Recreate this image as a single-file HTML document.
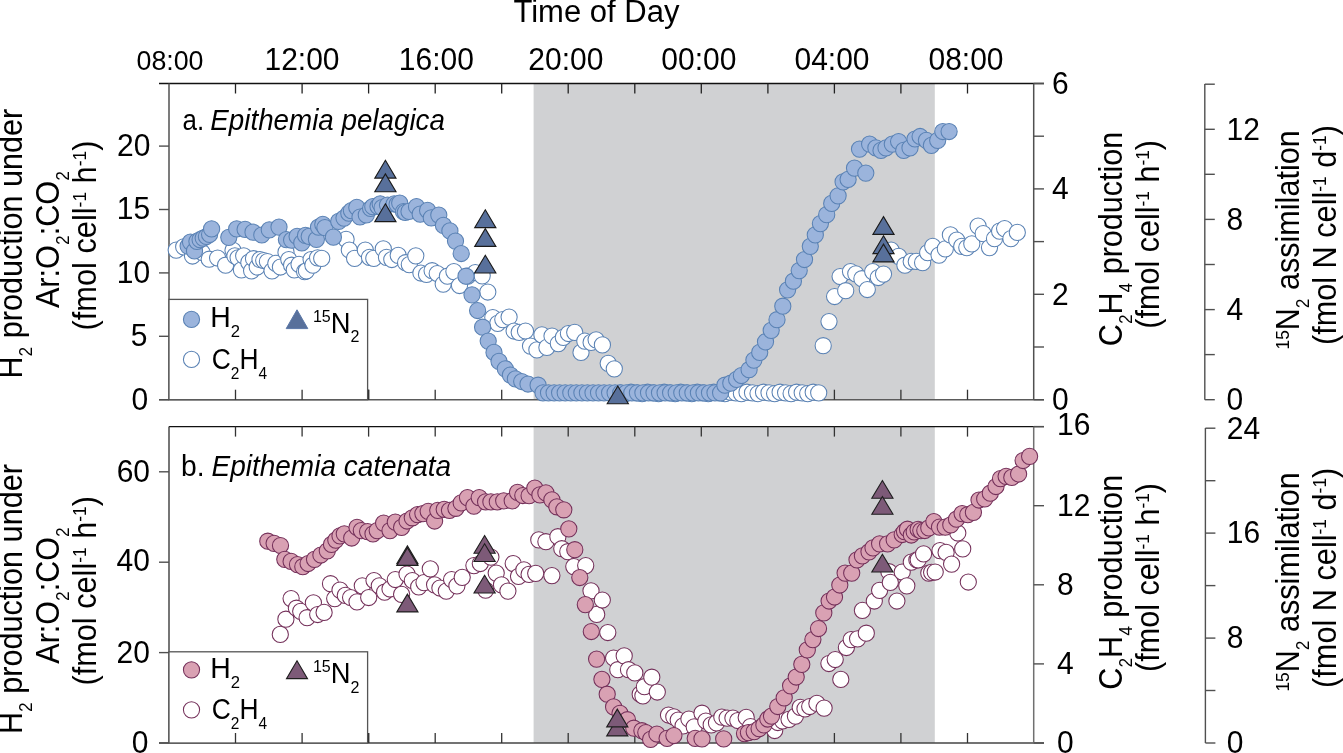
<!DOCTYPE html>
<html><head><meta charset="utf-8"><title>Figure</title>
<style>html,body{margin:0;padding:0;background:#fff;width:1343px;height:753px;overflow:hidden}svg{display:block}</style>
</head><body>
<svg width="1343" height="753" viewBox="0 0 1343 753">
<rect width="1343" height="753" fill="#fff"/>
<rect x="533.6" y="83.5" width="401.2" height="316.2" fill="#d0d1d3"/>
<rect x="533.6" y="426.6" width="401.2" height="316.4" fill="#d0d1d3"/>
<line x1="159" y1="83.5" x2="1044" y2="83.5" stroke="#111" stroke-width="1.4"/>
<line x1="159" y1="399.7" x2="1044" y2="399.7" stroke="#5a5a5a" stroke-width="1.5"/>
<line x1="169.0" y1="83.5" x2="169.0" y2="399.7" stroke="#505050" stroke-width="1.5"/>
<line x1="1033.7" y1="83.5" x2="1033.7" y2="399.7" stroke="#505050" stroke-width="1.5"/>
<line x1="235.5" y1="83.5" x2="235.5" y2="93.5" stroke="#222" stroke-width="1.3"/>
<line x1="235.5" y1="399.7" x2="235.5" y2="389.7" stroke="#333" stroke-width="1.3"/>
<line x1="302.1" y1="83.5" x2="302.1" y2="93.5" stroke="#222" stroke-width="1.3"/>
<line x1="302.1" y1="399.7" x2="302.1" y2="389.7" stroke="#333" stroke-width="1.3"/>
<line x1="368.6" y1="83.5" x2="368.6" y2="93.5" stroke="#222" stroke-width="1.3"/>
<line x1="368.6" y1="399.7" x2="368.6" y2="389.7" stroke="#333" stroke-width="1.3"/>
<line x1="435.2" y1="83.5" x2="435.2" y2="93.5" stroke="#222" stroke-width="1.3"/>
<line x1="435.2" y1="399.7" x2="435.2" y2="389.7" stroke="#333" stroke-width="1.3"/>
<line x1="501.7" y1="83.5" x2="501.7" y2="93.5" stroke="#222" stroke-width="1.3"/>
<line x1="501.7" y1="399.7" x2="501.7" y2="389.7" stroke="#333" stroke-width="1.3"/>
<line x1="568.2" y1="83.5" x2="568.2" y2="93.5" stroke="#222" stroke-width="1.3"/>
<line x1="568.2" y1="399.7" x2="568.2" y2="389.7" stroke="#333" stroke-width="1.3"/>
<line x1="634.8" y1="83.5" x2="634.8" y2="93.5" stroke="#222" stroke-width="1.3"/>
<line x1="634.8" y1="399.7" x2="634.8" y2="389.7" stroke="#333" stroke-width="1.3"/>
<line x1="701.3" y1="83.5" x2="701.3" y2="93.5" stroke="#222" stroke-width="1.3"/>
<line x1="701.3" y1="399.7" x2="701.3" y2="389.7" stroke="#333" stroke-width="1.3"/>
<line x1="767.9" y1="83.5" x2="767.9" y2="93.5" stroke="#222" stroke-width="1.3"/>
<line x1="767.9" y1="399.7" x2="767.9" y2="389.7" stroke="#333" stroke-width="1.3"/>
<line x1="834.4" y1="83.5" x2="834.4" y2="93.5" stroke="#222" stroke-width="1.3"/>
<line x1="834.4" y1="399.7" x2="834.4" y2="389.7" stroke="#333" stroke-width="1.3"/>
<line x1="900.9" y1="83.5" x2="900.9" y2="93.5" stroke="#222" stroke-width="1.3"/>
<line x1="900.9" y1="399.7" x2="900.9" y2="389.7" stroke="#333" stroke-width="1.3"/>
<line x1="967.5" y1="83.5" x2="967.5" y2="93.5" stroke="#222" stroke-width="1.3"/>
<line x1="967.5" y1="399.7" x2="967.5" y2="389.7" stroke="#333" stroke-width="1.3"/>
<line x1="159" y1="399.7" x2="169.0" y2="399.7" stroke="#505050" stroke-width="1.4"/>
<line x1="159" y1="336.3" x2="169.0" y2="336.3" stroke="#505050" stroke-width="1.4"/>
<line x1="159" y1="272.9" x2="169.0" y2="272.9" stroke="#505050" stroke-width="1.4"/>
<line x1="159" y1="209.5" x2="169.0" y2="209.5" stroke="#505050" stroke-width="1.4"/>
<line x1="159" y1="146.1" x2="169.0" y2="146.1" stroke="#505050" stroke-width="1.4"/>
<line x1="1033.7" y1="399.7" x2="1044" y2="399.7" stroke="#505050" stroke-width="1.4"/>
<line x1="1033.7" y1="347.0" x2="1044" y2="347.0" stroke="#505050" stroke-width="1.4"/>
<line x1="1033.7" y1="294.3" x2="1044" y2="294.3" stroke="#505050" stroke-width="1.4"/>
<line x1="1033.7" y1="241.6" x2="1044" y2="241.6" stroke="#505050" stroke-width="1.4"/>
<line x1="1033.7" y1="188.9" x2="1044" y2="188.9" stroke="#505050" stroke-width="1.4"/>
<line x1="1033.7" y1="136.2" x2="1044" y2="136.2" stroke="#505050" stroke-width="1.4"/>
<line x1="1033.7" y1="83.5" x2="1044" y2="83.5" stroke="#505050" stroke-width="1.4"/>
<line x1="1204.8" y1="84" x2="1204.8" y2="399.7" stroke="#505050" stroke-width="1.4"/>
<line x1="1204.8" y1="399.7" x2="1214.8" y2="399.7" stroke="#505050" stroke-width="1.4"/>
<line x1="1204.8" y1="354.6" x2="1214.8" y2="354.6" stroke="#505050" stroke-width="1.4"/>
<line x1="1204.8" y1="309.6" x2="1214.8" y2="309.6" stroke="#505050" stroke-width="1.4"/>
<line x1="1204.8" y1="264.5" x2="1214.8" y2="264.5" stroke="#505050" stroke-width="1.4"/>
<line x1="1204.8" y1="219.4" x2="1214.8" y2="219.4" stroke="#505050" stroke-width="1.4"/>
<line x1="1204.8" y1="174.3" x2="1214.8" y2="174.3" stroke="#505050" stroke-width="1.4"/>
<line x1="1204.8" y1="129.3" x2="1214.8" y2="129.3" stroke="#505050" stroke-width="1.4"/>
<line x1="1204.8" y1="84.2" x2="1214.8" y2="84.2" stroke="#505050" stroke-width="1.4"/>
<line x1="169.0" y1="426.6" x2="1044" y2="426.6" stroke="#111" stroke-width="1.2"/>
<line x1="159" y1="743.0" x2="1044" y2="743.0" stroke="#444" stroke-width="1.5"/>
<line x1="169.0" y1="426.6" x2="169.0" y2="743.0" stroke="#3c3c3c" stroke-width="1.4"/>
<line x1="1033.7" y1="426.6" x2="1033.7" y2="743.0" stroke="#707070" stroke-width="1.5"/>
<line x1="235.5" y1="426.6" x2="235.5" y2="436.6" stroke="#333" stroke-width="1.3"/>
<line x1="235.5" y1="743.0" x2="235.5" y2="733.0" stroke="#333" stroke-width="1.3"/>
<line x1="302.1" y1="426.6" x2="302.1" y2="436.6" stroke="#333" stroke-width="1.3"/>
<line x1="302.1" y1="743.0" x2="302.1" y2="733.0" stroke="#333" stroke-width="1.3"/>
<line x1="368.6" y1="426.6" x2="368.6" y2="436.6" stroke="#333" stroke-width="1.3"/>
<line x1="368.6" y1="743.0" x2="368.6" y2="733.0" stroke="#333" stroke-width="1.3"/>
<line x1="435.2" y1="426.6" x2="435.2" y2="436.6" stroke="#333" stroke-width="1.3"/>
<line x1="435.2" y1="743.0" x2="435.2" y2="733.0" stroke="#333" stroke-width="1.3"/>
<line x1="501.7" y1="426.6" x2="501.7" y2="436.6" stroke="#333" stroke-width="1.3"/>
<line x1="501.7" y1="743.0" x2="501.7" y2="733.0" stroke="#333" stroke-width="1.3"/>
<line x1="568.2" y1="426.6" x2="568.2" y2="436.6" stroke="#333" stroke-width="1.3"/>
<line x1="568.2" y1="743.0" x2="568.2" y2="733.0" stroke="#333" stroke-width="1.3"/>
<line x1="634.8" y1="426.6" x2="634.8" y2="436.6" stroke="#333" stroke-width="1.3"/>
<line x1="634.8" y1="743.0" x2="634.8" y2="733.0" stroke="#333" stroke-width="1.3"/>
<line x1="701.3" y1="426.6" x2="701.3" y2="436.6" stroke="#333" stroke-width="1.3"/>
<line x1="701.3" y1="743.0" x2="701.3" y2="733.0" stroke="#333" stroke-width="1.3"/>
<line x1="767.9" y1="426.6" x2="767.9" y2="436.6" stroke="#333" stroke-width="1.3"/>
<line x1="767.9" y1="743.0" x2="767.9" y2="733.0" stroke="#333" stroke-width="1.3"/>
<line x1="834.4" y1="426.6" x2="834.4" y2="436.6" stroke="#333" stroke-width="1.3"/>
<line x1="834.4" y1="743.0" x2="834.4" y2="733.0" stroke="#333" stroke-width="1.3"/>
<line x1="900.9" y1="426.6" x2="900.9" y2="436.6" stroke="#333" stroke-width="1.3"/>
<line x1="900.9" y1="743.0" x2="900.9" y2="733.0" stroke="#333" stroke-width="1.3"/>
<line x1="967.5" y1="426.6" x2="967.5" y2="436.6" stroke="#333" stroke-width="1.3"/>
<line x1="967.5" y1="743.0" x2="967.5" y2="733.0" stroke="#333" stroke-width="1.3"/>
<line x1="159" y1="743.0" x2="169.0" y2="743.0" stroke="#505050" stroke-width="1.4"/>
<line x1="159" y1="652.6" x2="169.0" y2="652.6" stroke="#505050" stroke-width="1.4"/>
<line x1="159" y1="562.2" x2="169.0" y2="562.2" stroke="#505050" stroke-width="1.4"/>
<line x1="159" y1="471.8" x2="169.0" y2="471.8" stroke="#505050" stroke-width="1.4"/>
<line x1="1033.7" y1="743.0" x2="1044" y2="743.0" stroke="#505050" stroke-width="1.4"/>
<line x1="1033.7" y1="663.9" x2="1044" y2="663.9" stroke="#505050" stroke-width="1.4"/>
<line x1="1033.7" y1="584.8" x2="1044" y2="584.8" stroke="#505050" stroke-width="1.4"/>
<line x1="1033.7" y1="505.7" x2="1044" y2="505.7" stroke="#505050" stroke-width="1.4"/>
<line x1="1033.7" y1="426.6" x2="1044" y2="426.6" stroke="#505050" stroke-width="1.4"/>
<line x1="1205.4" y1="428" x2="1205.4" y2="743.0" stroke="#505050" stroke-width="1.4"/>
<line x1="1205.4" y1="743.0" x2="1215.4" y2="743.0" stroke="#505050" stroke-width="1.4"/>
<line x1="1205.4" y1="690.5" x2="1215.4" y2="690.5" stroke="#505050" stroke-width="1.4"/>
<line x1="1205.4" y1="638.1" x2="1215.4" y2="638.1" stroke="#505050" stroke-width="1.4"/>
<line x1="1205.4" y1="585.6" x2="1215.4" y2="585.6" stroke="#505050" stroke-width="1.4"/>
<line x1="1205.4" y1="533.1" x2="1215.4" y2="533.1" stroke="#505050" stroke-width="1.4"/>
<line x1="1205.4" y1="480.7" x2="1215.4" y2="480.7" stroke="#505050" stroke-width="1.4"/>
<line x1="1205.4" y1="428.2" x2="1215.4" y2="428.2" stroke="#505050" stroke-width="1.4"/>
<g fill="#fff" stroke="#5a82b4" stroke-width="1.05">
<circle cx="176.2" cy="250.1" r="8.1"/>
<circle cx="183.7" cy="246.9" r="8.1"/>
<circle cx="192.5" cy="256.0" r="8.1"/>
<circle cx="202.1" cy="252.5" r="8.1"/>
<circle cx="209.2" cy="259.2" r="8.1"/>
<circle cx="217.6" cy="258.0" r="8.1"/>
<circle cx="225.6" cy="265.2" r="8.1"/>
<circle cx="233.0" cy="250.3" r="8.1"/>
<circle cx="234.9" cy="255.9" r="8.1"/>
<circle cx="238.1" cy="257.8" r="8.1"/>
<circle cx="241.4" cy="269.8" r="8.1"/>
<circle cx="243.7" cy="255.9" r="8.1"/>
<circle cx="248.8" cy="262.4" r="8.1"/>
<circle cx="251.6" cy="270.8" r="8.1"/>
<circle cx="253.5" cy="258.7" r="8.1"/>
<circle cx="257.2" cy="267.0" r="8.1"/>
<circle cx="260.0" cy="259.6" r="8.1"/>
<circle cx="263.7" cy="260.5" r="8.1"/>
<circle cx="267.4" cy="261.5" r="8.1"/>
<circle cx="272.0" cy="270.8" r="8.1"/>
<circle cx="275.8" cy="263.3" r="8.1"/>
<circle cx="280.4" cy="267.0" r="8.1"/>
<circle cx="286.0" cy="252.2" r="8.1"/>
<circle cx="288.8" cy="259.6" r="8.1"/>
<circle cx="291.6" cy="265.2" r="8.1"/>
<circle cx="294.3" cy="269.8" r="8.1"/>
<circle cx="299.0" cy="264.3" r="8.1"/>
<circle cx="304.6" cy="271.7" r="8.1"/>
<circle cx="306.4" cy="270.8" r="8.1"/>
<circle cx="311.1" cy="259.6" r="8.1"/>
<circle cx="312.9" cy="265.2" r="8.1"/>
<circle cx="317.6" cy="257.8" r="8.1"/>
<circle cx="321.7" cy="258.4" r="8.1"/>
<circle cx="346.1" cy="239.3" r="8.1"/>
<circle cx="349.3" cy="250.0" r="8.1"/>
<circle cx="354.6" cy="258.4" r="8.1"/>
<circle cx="365.3" cy="250.0" r="8.1"/>
<circle cx="369.5" cy="257.4" r="8.1"/>
<circle cx="373.8" cy="258.4" r="8.1"/>
<circle cx="383.3" cy="248.9" r="8.1"/>
<circle cx="386.5" cy="257.4" r="8.1"/>
<circle cx="391.8" cy="259.5" r="8.1"/>
<circle cx="398.2" cy="255.3" r="8.1"/>
<circle cx="405.6" cy="262.7" r="8.1"/>
<circle cx="409.3" cy="264.6" r="8.1"/>
<circle cx="415.8" cy="255.8" r="8.1"/>
<circle cx="420.9" cy="273.0" r="8.1"/>
<circle cx="426.5" cy="274.4" r="8.1"/>
<circle cx="432.1" cy="270.7" r="8.1"/>
<circle cx="437.2" cy="273.5" r="8.1"/>
<circle cx="443.2" cy="284.1" r="8.1"/>
<circle cx="447.4" cy="276.2" r="8.1"/>
<circle cx="453.9" cy="271.6" r="8.1"/>
<circle cx="459.5" cy="285.5" r="8.1"/>
<circle cx="467.7" cy="276.2" r="8.1"/>
<circle cx="475.3" cy="272.5" r="8.1"/>
<circle cx="482.2" cy="275.8" r="8.1"/>
<circle cx="487.8" cy="292.0" r="8.1"/>
<circle cx="492.8" cy="317.5" r="8.1"/>
<circle cx="497.7" cy="323.4" r="8.1"/>
<circle cx="502.8" cy="319.6" r="8.1"/>
<circle cx="509.1" cy="317.1" r="8.1"/>
<circle cx="514.1" cy="331.0" r="8.1"/>
<circle cx="519.2" cy="332.3" r="8.1"/>
<circle cx="525.5" cy="331.0" r="8.1"/>
<circle cx="530.5" cy="346.1" r="8.1"/>
<circle cx="536.9" cy="349.9" r="8.1"/>
<circle cx="541.9" cy="334.8" r="8.1"/>
<circle cx="546.9" cy="347.4" r="8.1"/>
<circle cx="552.0" cy="336.0" r="8.1"/>
<circle cx="558.3" cy="343.6" r="8.1"/>
<circle cx="563.3" cy="337.3" r="8.1"/>
<circle cx="568.4" cy="333.5" r="8.1"/>
<circle cx="574.7" cy="332.3" r="8.1"/>
<circle cx="581.0" cy="352.4" r="8.1"/>
<circle cx="584.8" cy="341.1" r="8.1"/>
<circle cx="591.1" cy="342.4" r="8.1"/>
<circle cx="596.1" cy="339.8" r="8.1"/>
<circle cx="602.4" cy="344.9" r="8.1"/>
<circle cx="608.2" cy="363.3" r="8.1"/>
<circle cx="614.3" cy="368.8" r="8.1"/>
<circle cx="620.0" cy="392.8" r="8.1"/>
<circle cx="625.5" cy="393.6" r="8.1"/>
<circle cx="631.0" cy="392.2" r="8.1"/>
<circle cx="636.6" cy="392.8" r="8.1"/>
<circle cx="642.1" cy="393.6" r="8.1"/>
<circle cx="647.6" cy="392.2" r="8.1"/>
<circle cx="653.1" cy="392.8" r="8.1"/>
<circle cx="658.6" cy="393.6" r="8.1"/>
<circle cx="664.2" cy="392.2" r="8.1"/>
<circle cx="669.7" cy="392.8" r="8.1"/>
<circle cx="675.2" cy="393.6" r="8.1"/>
<circle cx="680.7" cy="392.2" r="8.1"/>
<circle cx="686.2" cy="392.8" r="8.1"/>
<circle cx="691.8" cy="393.6" r="8.1"/>
<circle cx="697.3" cy="392.2" r="8.1"/>
<circle cx="702.8" cy="392.8" r="8.1"/>
<circle cx="708.3" cy="393.6" r="8.1"/>
<circle cx="713.8" cy="392.2" r="8.1"/>
<circle cx="719.4" cy="392.8" r="8.1"/>
<circle cx="724.9" cy="393.6" r="8.1"/>
<circle cx="730.4" cy="392.2" r="8.1"/>
<circle cx="735.9" cy="392.8" r="8.1"/>
<circle cx="741.4" cy="393.6" r="8.1"/>
<circle cx="747.0" cy="392.2" r="8.1"/>
<circle cx="752.5" cy="392.8" r="8.1"/>
<circle cx="758.0" cy="393.6" r="8.1"/>
<circle cx="763.5" cy="392.2" r="8.1"/>
<circle cx="769.0" cy="392.8" r="8.1"/>
<circle cx="774.6" cy="393.6" r="8.1"/>
<circle cx="780.1" cy="392.2" r="8.1"/>
<circle cx="785.6" cy="392.8" r="8.1"/>
<circle cx="791.1" cy="393.6" r="8.1"/>
<circle cx="796.6" cy="392.2" r="8.1"/>
<circle cx="802.2" cy="392.8" r="8.1"/>
<circle cx="807.7" cy="393.6" r="8.1"/>
<circle cx="813.2" cy="392.2" r="8.1"/>
<circle cx="818.7" cy="392.8" r="8.1"/>
<circle cx="823.2" cy="345.7" r="8.1"/>
<circle cx="829.0" cy="321.6" r="8.1"/>
<circle cx="834.6" cy="296.5" r="8.1"/>
<circle cx="840.1" cy="276.5" r="8.1"/>
<circle cx="845.7" cy="290.7" r="8.1"/>
<circle cx="850.5" cy="271.6" r="8.1"/>
<circle cx="855.8" cy="273.8" r="8.1"/>
<circle cx="861.9" cy="278.7" r="8.1"/>
<circle cx="867.3" cy="289.5" r="8.1"/>
<circle cx="872.7" cy="271.6" r="8.1"/>
<circle cx="878.3" cy="277.5" r="8.1"/>
<circle cx="883.5" cy="274.1" r="8.1"/>
<circle cx="891.1" cy="250.1" r="8.1"/>
<circle cx="898.6" cy="256.4" r="8.1"/>
<circle cx="904.9" cy="265.2" r="8.1"/>
<circle cx="911.2" cy="261.4" r="8.1"/>
<circle cx="916.3" cy="261.4" r="8.1"/>
<circle cx="922.6" cy="262.7" r="8.1"/>
<circle cx="927.7" cy="252.6" r="8.1"/>
<circle cx="932.7" cy="246.3" r="8.1"/>
<circle cx="939.0" cy="255.1" r="8.1"/>
<circle cx="945.3" cy="248.8" r="8.1"/>
<circle cx="950.4" cy="234.9" r="8.1"/>
<circle cx="956.7" cy="240.0" r="8.1"/>
<circle cx="961.7" cy="246.3" r="8.1"/>
<circle cx="966.8" cy="247.6" r="8.1"/>
<circle cx="971.8" cy="243.8" r="8.1"/>
<circle cx="978.1" cy="226.1" r="8.1"/>
<circle cx="983.2" cy="233.7" r="8.1"/>
<circle cx="989.5" cy="247.6" r="8.1"/>
<circle cx="994.5" cy="238.7" r="8.1"/>
<circle cx="999.6" cy="231.2" r="8.1"/>
<circle cx="1004.6" cy="228.6" r="8.1"/>
<circle cx="1010.9" cy="238.7" r="8.1"/>
<circle cx="1017.3" cy="232.4" r="8.1"/>
</g>
<g fill="#9bb4dc" stroke="#5a82b4" stroke-width="1.05">
<circle cx="188.1" cy="246.1" r="8.1"/>
<circle cx="190.5" cy="242.1" r="8.1"/>
<circle cx="194.5" cy="250.9" r="8.1"/>
<circle cx="196.9" cy="241.3" r="8.1"/>
<circle cx="200.1" cy="239.7" r="8.1"/>
<circle cx="203.2" cy="238.1" r="8.1"/>
<circle cx="206.4" cy="236.5" r="8.1"/>
<circle cx="209.6" cy="234.5" r="8.1"/>
<circle cx="211.6" cy="228.9" r="8.1"/>
<circle cx="228.8" cy="237.3" r="8.1"/>
<circle cx="236.7" cy="228.9" r="8.1"/>
<circle cx="245.1" cy="229.4" r="8.1"/>
<circle cx="253.0" cy="232.2" r="8.1"/>
<circle cx="261.8" cy="235.0" r="8.1"/>
<circle cx="269.3" cy="229.9" r="8.1"/>
<circle cx="279.0" cy="227.1" r="8.1"/>
<circle cx="286.4" cy="239.6" r="8.1"/>
<circle cx="291.6" cy="240.1" r="8.1"/>
<circle cx="297.1" cy="236.4" r="8.1"/>
<circle cx="301.8" cy="242.9" r="8.1"/>
<circle cx="305.5" cy="235.4" r="8.1"/>
<circle cx="309.2" cy="236.4" r="8.1"/>
<circle cx="316.4" cy="239.3" r="8.1"/>
<circle cx="318.5" cy="227.1" r="8.1"/>
<circle cx="322.8" cy="224.4" r="8.1"/>
<circle cx="324.9" cy="227.6" r="8.1"/>
<circle cx="333.4" cy="237.2" r="8.1"/>
<circle cx="338.7" cy="221.3" r="8.1"/>
<circle cx="344.0" cy="218.1" r="8.1"/>
<circle cx="348.8" cy="213.2" r="8.1"/>
<circle cx="351.4" cy="210.6" r="8.1"/>
<circle cx="356.8" cy="207.4" r="8.1"/>
<circle cx="360.0" cy="217.0" r="8.1"/>
<circle cx="366.3" cy="214.9" r="8.1"/>
<circle cx="370.6" cy="208.5" r="8.1"/>
<circle cx="372.8" cy="206.7" r="8.1"/>
<circle cx="378.0" cy="206.4" r="8.1"/>
<circle cx="380.2" cy="203.9" r="8.1"/>
<circle cx="382.1" cy="207.7" r="8.1"/>
<circle cx="387.5" cy="205.0" r="8.1"/>
<circle cx="394.2" cy="203.9" r="8.1"/>
<circle cx="397.1" cy="204.3" r="8.1"/>
<circle cx="399.7" cy="203.0" r="8.1"/>
<circle cx="403.5" cy="211.7" r="8.1"/>
<circle cx="405.3" cy="212.3" r="8.1"/>
<circle cx="409.0" cy="211.4" r="8.1"/>
<circle cx="416.5" cy="206.7" r="8.1"/>
<circle cx="420.2" cy="214.2" r="8.1"/>
<circle cx="427.6" cy="210.4" r="8.1"/>
<circle cx="431.3" cy="217.9" r="8.1"/>
<circle cx="438.8" cy="215.1" r="8.1"/>
<circle cx="443.4" cy="225.3" r="8.1"/>
<circle cx="449.9" cy="230.9" r="8.1"/>
<circle cx="455.5" cy="241.1" r="8.1"/>
<circle cx="461.2" cy="253.5" r="8.1"/>
<circle cx="466.0" cy="276.2" r="8.1"/>
<circle cx="472.0" cy="294.8" r="8.1"/>
<circle cx="477.6" cy="310.5" r="8.1"/>
<circle cx="482.6" cy="327.2" r="8.1"/>
<circle cx="488.2" cy="341.1" r="8.1"/>
<circle cx="494.0" cy="352.4" r="8.1"/>
<circle cx="499.0" cy="361.3" r="8.1"/>
<circle cx="505.3" cy="368.8" r="8.1"/>
<circle cx="510.4" cy="375.1" r="8.1"/>
<circle cx="515.4" cy="378.9" r="8.1"/>
<circle cx="521.7" cy="381.5" r="8.1"/>
<circle cx="528.0" cy="384.0" r="8.1"/>
<circle cx="538.1" cy="385.2" r="8.1"/>
<circle cx="543.0" cy="392.8" r="8.1"/>
<circle cx="548.5" cy="392.8" r="8.1"/>
<circle cx="554.1" cy="392.8" r="8.1"/>
<circle cx="559.6" cy="392.8" r="8.1"/>
<circle cx="565.2" cy="392.8" r="8.1"/>
<circle cx="570.8" cy="392.8" r="8.1"/>
<circle cx="576.3" cy="392.8" r="8.1"/>
<circle cx="581.9" cy="392.8" r="8.1"/>
<circle cx="587.4" cy="392.8" r="8.1"/>
<circle cx="593.0" cy="392.8" r="8.1"/>
<circle cx="598.5" cy="392.8" r="8.1"/>
<circle cx="604.0" cy="392.8" r="8.1"/>
<circle cx="609.6" cy="392.8" r="8.1"/>
<circle cx="615.1" cy="392.8" r="8.1"/>
<circle cx="620.7" cy="392.8" r="8.1"/>
<circle cx="626.2" cy="392.8" r="8.1"/>
<circle cx="631.8" cy="392.8" r="8.1"/>
<circle cx="637.4" cy="392.8" r="8.1"/>
<circle cx="642.9" cy="392.8" r="8.1"/>
<circle cx="648.5" cy="392.8" r="8.1"/>
<circle cx="654.0" cy="392.8" r="8.1"/>
<circle cx="659.5" cy="392.8" r="8.1"/>
<circle cx="665.1" cy="392.8" r="8.1"/>
<circle cx="670.6" cy="392.8" r="8.1"/>
<circle cx="676.2" cy="392.8" r="8.1"/>
<circle cx="681.8" cy="392.8" r="8.1"/>
<circle cx="687.3" cy="392.8" r="8.1"/>
<circle cx="692.9" cy="392.8" r="8.1"/>
<circle cx="698.4" cy="392.8" r="8.1"/>
<circle cx="704.0" cy="392.8" r="8.1"/>
<circle cx="709.5" cy="392.8" r="8.1"/>
<circle cx="715.0" cy="392.8" r="8.1"/>
<circle cx="720.6" cy="392.8" r="8.1"/>
<circle cx="724.9" cy="385.2" r="8.1"/>
<circle cx="730.8" cy="383.2" r="8.1"/>
<circle cx="736.6" cy="379.4" r="8.1"/>
<circle cx="741.4" cy="375.5" r="8.1"/>
<circle cx="749.1" cy="369.7" r="8.1"/>
<circle cx="753.9" cy="360.1" r="8.1"/>
<circle cx="759.7" cy="352.4" r="8.1"/>
<circle cx="765.5" cy="341.8" r="8.1"/>
<circle cx="771.2" cy="330.3" r="8.1"/>
<circle cx="777.0" cy="319.7" r="8.1"/>
<circle cx="782.8" cy="306.2" r="8.1"/>
<circle cx="787.6" cy="289.8" r="8.1"/>
<circle cx="793.4" cy="281.2" r="8.1"/>
<circle cx="799.2" cy="270.6" r="8.1"/>
<circle cx="804.5" cy="259.5" r="8.1"/>
<circle cx="810.3" cy="246.3" r="8.1"/>
<circle cx="815.3" cy="234.9" r="8.1"/>
<circle cx="820.4" cy="223.6" r="8.1"/>
<circle cx="826.7" cy="214.7" r="8.1"/>
<circle cx="831.7" cy="203.4" r="8.1"/>
<circle cx="838.1" cy="195.8" r="8.1"/>
<circle cx="843.1" cy="181.9" r="8.1"/>
<circle cx="848.1" cy="179.4" r="8.1"/>
<circle cx="854.5" cy="168.1" r="8.1"/>
<circle cx="865.8" cy="173.1" r="8.1"/>
<circle cx="859.5" cy="149.1" r="8.1"/>
<circle cx="869.6" cy="144.1" r="8.1"/>
<circle cx="875.9" cy="147.9" r="8.1"/>
<circle cx="881.0" cy="150.4" r="8.1"/>
<circle cx="886.0" cy="147.9" r="8.1"/>
<circle cx="892.3" cy="144.1" r="8.1"/>
<circle cx="898.6" cy="141.5" r="8.1"/>
<circle cx="903.7" cy="150.4" r="8.1"/>
<circle cx="910.0" cy="147.9" r="8.1"/>
<circle cx="915.0" cy="139.0" r="8.1"/>
<circle cx="920.1" cy="136.5" r="8.1"/>
<circle cx="926.4" cy="140.3" r="8.1"/>
<circle cx="931.4" cy="145.3" r="8.1"/>
<circle cx="937.7" cy="140.3" r="8.1"/>
<circle cx="942.8" cy="131.5" r="8.1"/>
<circle cx="949.1" cy="131.5" r="8.1"/>
</g>
<g fill="#58709b" stroke="#1a1a1a" stroke-width="1.1" stroke-linejoin="miter">
<path d="M385.4 160.3L396.0 178.1L374.8 178.1Z"/>
<path d="M385.4 173.9L396.0 191.7L374.8 191.7Z"/>
<path d="M385.4 203.8L396.0 221.6L374.8 221.6Z"/>
<path d="M485.3 209.8L495.9 227.6L474.7 227.6Z"/>
<path d="M485.3 228.6L495.9 246.4L474.7 246.4Z"/>
<path d="M485.3 255.2L495.9 273.0L474.7 273.0Z"/>
<path d="M617.8 386.0L628.4 403.8L607.2 403.8Z"/>
<path d="M883.5 216.6L894.1 234.4L872.9 234.4Z"/>
<path d="M883.5 235.8L894.1 253.6L872.9 253.6Z"/>
<path d="M883.5 244.1L894.1 261.9L872.9 261.9Z"/>
</g>
<g fill="#fff" stroke="#74305a" stroke-width="1.05">
<circle cx="280.3" cy="634.4" r="8.1"/>
<circle cx="285.9" cy="619.2" r="8.1"/>
<circle cx="291.1" cy="598.6" r="8.1"/>
<circle cx="296.4" cy="608.2" r="8.1"/>
<circle cx="300.7" cy="611.3" r="8.1"/>
<circle cx="307.1" cy="617.7" r="8.1"/>
<circle cx="313.4" cy="602.8" r="8.1"/>
<circle cx="317.7" cy="614.5" r="8.1"/>
<circle cx="324.1" cy="612.4" r="8.1"/>
<circle cx="330.5" cy="583.7" r="8.1"/>
<circle cx="334.7" cy="598.6" r="8.1"/>
<circle cx="340.0" cy="590.1" r="8.1"/>
<circle cx="345.3" cy="595.4" r="8.1"/>
<circle cx="350.6" cy="597.5" r="8.1"/>
<circle cx="357.0" cy="601.8" r="8.1"/>
<circle cx="362.3" cy="585.8" r="8.1"/>
<circle cx="368.7" cy="597.5" r="8.1"/>
<circle cx="374.0" cy="580.5" r="8.1"/>
<circle cx="379.3" cy="585.8" r="8.1"/>
<circle cx="384.6" cy="592.2" r="8.1"/>
<circle cx="390.0" cy="589.0" r="8.1"/>
<circle cx="395.3" cy="579.5" r="8.1"/>
<circle cx="401.6" cy="594.3" r="8.1"/>
<circle cx="407.0" cy="574.1" r="8.1"/>
<circle cx="412.3" cy="580.5" r="8.1"/>
<circle cx="418.7" cy="586.9" r="8.1"/>
<circle cx="424.0" cy="582.6" r="8.1"/>
<circle cx="430.3" cy="568.8" r="8.1"/>
<circle cx="434.6" cy="584.8" r="8.1"/>
<circle cx="439.9" cy="588.0" r="8.1"/>
<circle cx="446.3" cy="591.1" r="8.1"/>
<circle cx="451.6" cy="579.5" r="8.1"/>
<circle cx="456.9" cy="585.8" r="8.1"/>
<circle cx="462.2" cy="577.3" r="8.1"/>
<circle cx="473.9" cy="565.6" r="8.1"/>
<circle cx="480.3" cy="563.5" r="8.1"/>
<circle cx="485.6" cy="590.1" r="8.1"/>
<circle cx="490.9" cy="557.1" r="8.1"/>
<circle cx="496.2" cy="573.1" r="8.1"/>
<circle cx="501.5" cy="584.8" r="8.1"/>
<circle cx="507.9" cy="591.1" r="8.1"/>
<circle cx="513.2" cy="563.5" r="8.1"/>
<circle cx="518.5" cy="576.3" r="8.1"/>
<circle cx="523.9" cy="569.9" r="8.1"/>
<circle cx="529.1" cy="574.4" r="8.1"/>
<circle cx="535.7" cy="573.3" r="8.1"/>
<circle cx="538.8" cy="539.9" r="8.1"/>
<circle cx="545.9" cy="541.7" r="8.1"/>
<circle cx="551.9" cy="575.6" r="8.1"/>
<circle cx="557.9" cy="536.7" r="8.1"/>
<circle cx="561.8" cy="548.7" r="8.1"/>
<circle cx="567.8" cy="551.7" r="8.1"/>
<circle cx="573.8" cy="566.6" r="8.1"/>
<circle cx="585.7" cy="565.6" r="8.1"/>
<circle cx="591.0" cy="590.8" r="8.1"/>
<circle cx="596.7" cy="614.4" r="8.1"/>
<circle cx="602.3" cy="600.0" r="8.1"/>
<circle cx="607.8" cy="632.5" r="8.1"/>
<circle cx="613.6" cy="658.0" r="8.1"/>
<circle cx="617.8" cy="669.7" r="8.1"/>
<circle cx="624.2" cy="655.9" r="8.1"/>
<circle cx="628.5" cy="669.7" r="8.1"/>
<circle cx="634.8" cy="672.9" r="8.1"/>
<circle cx="640.2" cy="694.2" r="8.1"/>
<circle cx="642.9" cy="695.8" r="8.1"/>
<circle cx="644.4" cy="686.7" r="8.1"/>
<circle cx="651.8" cy="677.2" r="8.1"/>
<circle cx="657.3" cy="692.0" r="8.1"/>
<circle cx="668.5" cy="715.0" r="8.1"/>
<circle cx="673.8" cy="716.8" r="8.1"/>
<circle cx="678.2" cy="720.0" r="8.1"/>
<circle cx="683.1" cy="725.8" r="8.1"/>
<circle cx="688.9" cy="719.0" r="8.1"/>
<circle cx="694.2" cy="726.8" r="8.1"/>
<circle cx="702.0" cy="713.2" r="8.1"/>
<circle cx="705.8" cy="721.0" r="8.1"/>
<circle cx="711.2" cy="724.9" r="8.1"/>
<circle cx="716.5" cy="722.9" r="8.1"/>
<circle cx="721.8" cy="717.1" r="8.1"/>
<circle cx="727.1" cy="718.1" r="8.1"/>
<circle cx="732.9" cy="718.1" r="8.1"/>
<circle cx="737.8" cy="720.5" r="8.1"/>
<circle cx="746.2" cy="717.4" r="8.1"/>
<circle cx="750.5" cy="726.5" r="8.1"/>
<circle cx="774.7" cy="730.5" r="8.1"/>
<circle cx="777.8" cy="722.5" r="8.1"/>
<circle cx="782.6" cy="720.9" r="8.1"/>
<circle cx="789.0" cy="719.3" r="8.1"/>
<circle cx="795.4" cy="716.1" r="8.1"/>
<circle cx="800.2" cy="707.3" r="8.1"/>
<circle cx="805.0" cy="708.9" r="8.1"/>
<circle cx="809.7" cy="706.5" r="8.1"/>
<circle cx="816.9" cy="703.4" r="8.1"/>
<circle cx="824.1" cy="708.1" r="8.1"/>
<circle cx="828.9" cy="663.5" r="8.1"/>
<circle cx="835.2" cy="659.5" r="8.1"/>
<circle cx="840.8" cy="679.4" r="8.1"/>
<circle cx="846.4" cy="647.5" r="8.1"/>
<circle cx="851.2" cy="639.6" r="8.1"/>
<circle cx="857.6" cy="638.8" r="8.1"/>
<circle cx="862.4" cy="610.3" r="8.1"/>
<circle cx="866.3" cy="633.2" r="8.1"/>
<circle cx="874.3" cy="601.0" r="8.1"/>
<circle cx="879.6" cy="590.3" r="8.1"/>
<circle cx="888.9" cy="571.7" r="8.1"/>
<circle cx="890.3" cy="582.4" r="8.1"/>
<circle cx="896.9" cy="601.0" r="8.1"/>
<circle cx="902.2" cy="572.0" r="8.1"/>
<circle cx="906.8" cy="585.8" r="8.1"/>
<circle cx="911.3" cy="562.1" r="8.1"/>
<circle cx="916.9" cy="559.9" r="8.1"/>
<circle cx="918.2" cy="559.8" r="8.1"/>
<circle cx="923.6" cy="553.8" r="8.1"/>
<circle cx="928.8" cy="573.1" r="8.1"/>
<circle cx="931.6" cy="572.3" r="8.1"/>
<circle cx="935.2" cy="572.0" r="8.1"/>
<circle cx="940.0" cy="550.6" r="8.1"/>
<circle cx="946.1" cy="552.4" r="8.1"/>
<circle cx="951.6" cy="564.1" r="8.1"/>
<circle cx="957.8" cy="533.0" r="8.1"/>
<circle cx="962.7" cy="548.9" r="8.1"/>
<circle cx="968.3" cy="582.0" r="8.1"/>
</g>
<g fill="#d9a1b3" stroke="#74305a" stroke-width="1.05">
<circle cx="267.8" cy="541.2" r="8.1"/>
<circle cx="274.1" cy="543.3" r="8.1"/>
<circle cx="280.5" cy="545.5" r="8.1"/>
<circle cx="284.8" cy="559.3" r="8.1"/>
<circle cx="291.1" cy="561.4" r="8.1"/>
<circle cx="297.5" cy="564.6" r="8.1"/>
<circle cx="302.8" cy="566.7" r="8.1"/>
<circle cx="308.1" cy="563.5" r="8.1"/>
<circle cx="314.5" cy="559.3" r="8.1"/>
<circle cx="320.9" cy="555.0" r="8.1"/>
<circle cx="327.3" cy="550.8" r="8.1"/>
<circle cx="331.5" cy="544.4" r="8.1"/>
<circle cx="335.8" cy="540.1" r="8.1"/>
<circle cx="340.0" cy="535.9" r="8.1"/>
<circle cx="344.3" cy="533.8" r="8.1"/>
<circle cx="351.7" cy="538.0" r="8.1"/>
<circle cx="357.0" cy="527.4" r="8.1"/>
<circle cx="361.3" cy="530.6" r="8.1"/>
<circle cx="367.6" cy="531.6" r="8.1"/>
<circle cx="373.0" cy="533.8" r="8.1"/>
<circle cx="377.2" cy="530.6" r="8.1"/>
<circle cx="383.6" cy="523.1" r="8.1"/>
<circle cx="390.0" cy="530.6" r="8.1"/>
<circle cx="395.3" cy="522.1" r="8.1"/>
<circle cx="401.6" cy="527.4" r="8.1"/>
<circle cx="407.0" cy="521.0" r="8.1"/>
<circle cx="412.3" cy="517.8" r="8.1"/>
<circle cx="417.6" cy="514.6" r="8.1"/>
<circle cx="422.9" cy="513.6" r="8.1"/>
<circle cx="428.2" cy="511.4" r="8.1"/>
<circle cx="434.6" cy="521.0" r="8.1"/>
<circle cx="437.8" cy="510.4" r="8.1"/>
<circle cx="444.2" cy="509.3" r="8.1"/>
<circle cx="449.5" cy="510.4" r="8.1"/>
<circle cx="455.9" cy="508.3" r="8.1"/>
<circle cx="461.2" cy="502.9" r="8.1"/>
<circle cx="467.5" cy="497.6" r="8.1"/>
<circle cx="473.9" cy="506.1" r="8.1"/>
<circle cx="479.2" cy="497.6" r="8.1"/>
<circle cx="485.6" cy="501.9" r="8.1"/>
<circle cx="490.9" cy="501.9" r="8.1"/>
<circle cx="497.3" cy="501.9" r="8.1"/>
<circle cx="503.7" cy="500.8" r="8.1"/>
<circle cx="512.2" cy="500.8" r="8.1"/>
<circle cx="517.5" cy="492.3" r="8.1"/>
<circle cx="522.8" cy="495.5" r="8.1"/>
<circle cx="529.1" cy="495.7" r="8.1"/>
<circle cx="534.8" cy="488.0" r="8.1"/>
<circle cx="539.9" cy="494.9" r="8.1"/>
<circle cx="545.9" cy="492.9" r="8.1"/>
<circle cx="551.9" cy="499.9" r="8.1"/>
<circle cx="556.9" cy="506.8" r="8.1"/>
<circle cx="563.8" cy="509.8" r="8.1"/>
<circle cx="568.8" cy="528.8" r="8.1"/>
<circle cx="574.8" cy="549.7" r="8.1"/>
<circle cx="579.8" cy="577.5" r="8.1"/>
<circle cx="585.3" cy="604.6" r="8.1"/>
<circle cx="591.3" cy="631.5" r="8.1"/>
<circle cx="596.6" cy="659.1" r="8.1"/>
<circle cx="601.9" cy="679.3" r="8.1"/>
<circle cx="607.2" cy="694.2" r="8.1"/>
<circle cx="613.6" cy="706.9" r="8.1"/>
<circle cx="620.0" cy="713.3" r="8.1"/>
<circle cx="627.4" cy="719.7" r="8.1"/>
<circle cx="633.8" cy="728.2" r="8.1"/>
<circle cx="641.9" cy="730.7" r="8.1"/>
<circle cx="645.8" cy="732.6" r="8.1"/>
<circle cx="650.6" cy="739.4" r="8.1"/>
<circle cx="656.9" cy="734.0" r="8.1"/>
<circle cx="667.1" cy="738.4" r="8.1"/>
<circle cx="673.9" cy="735.5" r="8.1"/>
<circle cx="695.2" cy="738.4" r="8.1"/>
<circle cx="702.0" cy="738.9" r="8.1"/>
<circle cx="723.7" cy="738.9" r="8.1"/>
<circle cx="744.5" cy="733.6" r="8.1"/>
<circle cx="748.4" cy="732.6" r="8.1"/>
<circle cx="754.2" cy="731.6" r="8.1"/>
<circle cx="759.1" cy="728.7" r="8.1"/>
<circle cx="763.9" cy="724.9" r="8.1"/>
<circle cx="767.8" cy="719.0" r="8.1"/>
<circle cx="771.5" cy="716.1" r="8.1"/>
<circle cx="777.8" cy="706.5" r="8.1"/>
<circle cx="784.2" cy="697.8" r="8.1"/>
<circle cx="790.6" cy="685.8" r="8.1"/>
<circle cx="796.2" cy="677.0" r="8.1"/>
<circle cx="801.8" cy="664.3" r="8.1"/>
<circle cx="807.3" cy="649.9" r="8.1"/>
<circle cx="812.9" cy="639.6" r="8.1"/>
<circle cx="818.5" cy="628.5" r="8.1"/>
<circle cx="823.8" cy="612.9" r="8.1"/>
<circle cx="829.1" cy="601.0" r="8.1"/>
<circle cx="834.5" cy="597.0" r="8.1"/>
<circle cx="839.8" cy="585.0" r="8.1"/>
<circle cx="845.1" cy="573.1" r="8.1"/>
<circle cx="851.7" cy="573.1" r="8.1"/>
<circle cx="857.0" cy="559.8" r="8.1"/>
<circle cx="862.4" cy="555.8" r="8.1"/>
<circle cx="869.0" cy="551.8" r="8.1"/>
<circle cx="873.0" cy="547.8" r="8.1"/>
<circle cx="879.6" cy="543.8" r="8.1"/>
<circle cx="887.6" cy="543.8" r="8.1"/>
<circle cx="894.2" cy="539.9" r="8.1"/>
<circle cx="902.2" cy="534.5" r="8.1"/>
<circle cx="904.5" cy="531.6" r="8.1"/>
<circle cx="907.5" cy="529.2" r="8.1"/>
<circle cx="911.3" cy="535.0" r="8.1"/>
<circle cx="914.2" cy="531.9" r="8.1"/>
<circle cx="918.1" cy="529.4" r="8.1"/>
<circle cx="920.8" cy="530.6" r="8.1"/>
<circle cx="924.8" cy="530.5" r="8.1"/>
<circle cx="928.8" cy="527.9" r="8.1"/>
<circle cx="933.9" cy="521.5" r="8.1"/>
<circle cx="939.5" cy="527.1" r="8.1"/>
<circle cx="945.2" cy="527.1" r="8.1"/>
<circle cx="950.8" cy="524.9" r="8.1"/>
<circle cx="956.5" cy="519.2" r="8.1"/>
<circle cx="962.1" cy="513.6" r="8.1"/>
<circle cx="967.8" cy="514.7" r="8.1"/>
<circle cx="973.4" cy="512.4" r="8.1"/>
<circle cx="979.0" cy="500.0" r="8.1"/>
<circle cx="984.7" cy="498.9" r="8.1"/>
<circle cx="990.3" cy="493.2" r="8.1"/>
<circle cx="996.0" cy="486.5" r="8.1"/>
<circle cx="1000.5" cy="478.6" r="8.1"/>
<circle cx="1006.1" cy="476.3" r="8.1"/>
<circle cx="1011.8" cy="477.4" r="8.1"/>
<circle cx="1018.6" cy="474.0" r="8.1"/>
<circle cx="1023.1" cy="460.5" r="8.1"/>
<circle cx="1029.6" cy="456.3" r="8.1"/>
</g>
<g fill="#7d5a78" stroke="#1e1e1e" stroke-width="1.1" stroke-linejoin="miter">
<path d="M407.4 545.9L418.0 563.7L396.8 563.7Z"/>
<path d="M407.4 547.6L418.0 565.4L396.8 565.4Z"/>
<path d="M407.4 594.1L418.0 611.9L396.8 611.9Z"/>
<path d="M484.6 535.5L495.2 553.3L474.0 553.3Z"/>
<path d="M484.6 543.7L495.2 561.5L474.0 561.5Z"/>
<path d="M484.6 575.2L495.2 593.0L474.0 593.0Z"/>
<path d="M617.3 718.1L627.9 735.9L606.7 735.9Z"/>
<path d="M617.3 709.1L627.9 726.9L606.7 726.9Z"/>
<path d="M882.4 480.5L893.0 498.3L871.8 498.3Z"/>
<path d="M882.4 496.5L893.0 514.3L871.8 514.3Z"/>
<path d="M882.4 554.2L893.0 572.0L871.8 572.0Z"/>
</g>
<rect x="169" y="299.4" width="198.6" height="100.3" fill="#fff" stroke="#555" stroke-width="1.3"/>
<rect x="169" y="651.8" width="198.6" height="91.2" fill="#fff" stroke="#555" stroke-width="1.3"/>
<line x1="235.5" y1="399.7" x2="235.5" y2="389.7" stroke="#333" stroke-width="1.3"/>
<line x1="235.5" y1="743.0" x2="235.5" y2="733.0" stroke="#333" stroke-width="1.3"/>
<line x1="302.1" y1="399.7" x2="302.1" y2="389.7" stroke="#333" stroke-width="1.3"/>
<line x1="302.1" y1="743.0" x2="302.1" y2="733.0" stroke="#333" stroke-width="1.3"/>
<line x1="368.6" y1="399.7" x2="368.6" y2="389.7" stroke="#333" stroke-width="1.3"/>
<line x1="368.6" y1="743.0" x2="368.6" y2="733.0" stroke="#333" stroke-width="1.3"/>
<g font-family='"Liberation Sans", Arial, Helvetica, sans-serif' fill="#000"><text transform="translate(596.4,22.2) scale(1,1.0)" font-size="31" text-anchor="middle" >Time of Day</text>
<text transform="translate(170.0,70.0) scale(1,1.04)" font-size="26.8" text-anchor="middle" >08:00</text>
<text transform="translate(302.0,70.0) scale(1,1.04)" font-size="30" text-anchor="middle" >12:00</text>
<text transform="translate(436.3,70.0) scale(1,1.04)" font-size="30" text-anchor="middle" >16:00</text>
<text transform="translate(565.8,70.0) scale(1,1.04)" font-size="30" text-anchor="middle" >20:00</text>
<text transform="translate(698.8,70.0) scale(1,1.04)" font-size="30" text-anchor="middle" >00:00</text>
<text transform="translate(832.0,70.0) scale(1,1.04)" font-size="30" text-anchor="middle" >04:00</text>
<text transform="translate(966.0,70.0) scale(1,1.04)" font-size="30" text-anchor="middle" >08:00</text>
<text transform="translate(148.1,409.6) scale(1,1.04)" font-size="30" text-anchor="end" >0</text>
<text transform="translate(147.5,346.2) scale(1,1.04)" font-size="30" text-anchor="end" >5</text>
<text transform="translate(150.2,282.8) scale(1,1.04)" font-size="30" text-anchor="end" >10</text>
<text transform="translate(150.2,219.4) scale(1,1.04)" font-size="30" text-anchor="end" >15</text>
<text transform="translate(150.4,156.0) scale(1,1.04)" font-size="30" text-anchor="end" >20</text>
<text transform="translate(148.5,752.9) scale(1,1.04)" font-size="30" text-anchor="end" >0</text>
<text transform="translate(149.9,662.5) scale(1,1.04)" font-size="30" text-anchor="end" >20</text>
<text transform="translate(149.9,571.3) scale(1,1.04)" font-size="30" text-anchor="end" >40</text>
<text transform="translate(150.0,481.7) scale(1,1.04)" font-size="30" text-anchor="end" >60</text>
<text transform="translate(1052.0,410.0) scale(1,1.04)" font-size="30" text-anchor="start" >0</text>
<text transform="translate(1052.0,304.6) scale(1,1.04)" font-size="30" text-anchor="start" >2</text>
<text transform="translate(1052.0,199.2) scale(1,1.04)" font-size="30" text-anchor="start" >4</text>
<text transform="translate(1052.0,93.8) scale(1,1.04)" font-size="30" text-anchor="start" >6</text>
<text transform="translate(1057.0,753.3) scale(1,1.04)" font-size="30" text-anchor="start" >0</text>
<text transform="translate(1057.0,674.2) scale(1,1.04)" font-size="30" text-anchor="start" >4</text>
<text transform="translate(1057.0,595.1) scale(1,1.04)" font-size="30" text-anchor="start" >8</text>
<text transform="translate(1057.0,516.0) scale(1,1.04)" font-size="30" text-anchor="start" >12</text>
<text transform="translate(1057.0,434.9) scale(1,1.04)" font-size="30" text-anchor="start" >16</text>
<text transform="translate(1226.5,410.0) scale(1,1.04)" font-size="30" text-anchor="start" >0</text>
<text transform="translate(1226.5,319.9) scale(1,1.04)" font-size="30" text-anchor="start" >4</text>
<text transform="translate(1226.5,229.7) scale(1,1.04)" font-size="30" text-anchor="start" >8</text>
<text transform="translate(1226.5,139.6) scale(1,1.04)" font-size="30" text-anchor="start" >12</text>
<text transform="translate(1226.8,753.3) scale(1,1.04)" font-size="30" text-anchor="start" >0</text>
<text transform="translate(1226.8,648.4) scale(1,1.04)" font-size="30" text-anchor="start" >8</text>
<text transform="translate(1226.8,543.4) scale(1,1.04)" font-size="30" text-anchor="start" >16</text>
<text transform="translate(1226.8,438.5) scale(1,1.04)" font-size="30" text-anchor="start" >24</text>
<text transform="translate(22.3,243.60000000000002) rotate(-90) scale(1,1.09)" font-size="30" text-anchor="middle" textLength="269.79999999999995" lengthAdjust="spacingAndGlyphs"><tspan>H</tspan><tspan dy="9.3" font-size="17">2</tspan><tspan dy="-9.3"> production under</tspan></text>
<text transform="translate(59.3,239.60000000000002) rotate(-90) scale(1,1.09)" font-size="30" text-anchor="middle" textLength="137.0" lengthAdjust="spacingAndGlyphs"><tspan>Ar:O</tspan><tspan dy="9.3" font-size="17">2</tspan><tspan dy="-9.3">:CO</tspan><tspan dy="9.3" font-size="17">2</tspan></text>
<text transform="translate(96.1,235.5) rotate(-90) scale(1,1.09)" font-size="30" text-anchor="middle" textLength="190.0" lengthAdjust="spacingAndGlyphs"><tspan>(fmol cell</tspan><tspan dy="-9.2" font-size="17">-1</tspan><tspan dy="9.2"> h</tspan><tspan dy="-9.2" font-size="17">-1</tspan><tspan dy="9.2">)</tspan></text>
<text transform="translate(22.3,599.0999999999999) rotate(-90) scale(1,1.09)" font-size="30" text-anchor="middle" textLength="269.99999999999994" lengthAdjust="spacingAndGlyphs"><tspan>H</tspan><tspan dy="9.3" font-size="17">2</tspan><tspan dy="-9.3"> production under</tspan></text>
<text transform="translate(59.3,595.55) rotate(-90) scale(1,1.09)" font-size="30" text-anchor="middle" textLength="136.20000000000002" lengthAdjust="spacingAndGlyphs"><tspan>Ar:O</tspan><tspan dy="9.3" font-size="17">2</tspan><tspan dy="-9.3">:CO</tspan><tspan dy="9.3" font-size="17">2</tspan></text>
<text transform="translate(96.1,590.8) rotate(-90) scale(1,1.09)" font-size="30" text-anchor="middle" textLength="189.39999999999998" lengthAdjust="spacingAndGlyphs"><tspan>(fmol cell</tspan><tspan dy="-9.2" font-size="17">-1</tspan><tspan dy="9.2"> h</tspan><tspan dy="-9.2" font-size="17">-1</tspan><tspan dy="9.2">)</tspan></text>
<text transform="translate(1121.8,238.95) rotate(-90) scale(1,1.09)" font-size="30" text-anchor="middle" textLength="214.4" lengthAdjust="spacingAndGlyphs"><tspan>C</tspan><tspan dy="9.3" font-size="17">2</tspan><tspan dy="-9.3">H</tspan><tspan dy="9.3" font-size="17">4</tspan><tspan dy="-9.3"> production</tspan></text>
<text transform="translate(1159.0,234.35) rotate(-90) scale(1,1.09)" font-size="30" text-anchor="middle" textLength="188.80000000000004" lengthAdjust="spacingAndGlyphs"><tspan>(fmol cell</tspan><tspan dy="-9.2" font-size="17">-1</tspan><tspan dy="9.2"> h</tspan><tspan dy="-9.2" font-size="17">-1</tspan><tspan dy="9.2">)</tspan></text>
<text transform="translate(1299.3,239.89999999999998) rotate(-90) scale(1,1.09)" font-size="30" text-anchor="middle" textLength="219.2" lengthAdjust="spacingAndGlyphs"><tspan dy="-9.2" font-size="17">15</tspan><tspan dy="9.2">N</tspan><tspan dy="9.3" font-size="17">2</tspan><tspan dy="-9.3"> assimilation</tspan></text>
<text transform="translate(1336.0,235.05) rotate(-90) scale(1,1.09)" font-size="30" text-anchor="middle" textLength="220.0" lengthAdjust="spacingAndGlyphs"><tspan>(fmol N cell</tspan><tspan dy="-9.2" font-size="17">-1</tspan><tspan dy="9.2"> d</tspan><tspan dy="-9.2" font-size="17">-1</tspan><tspan dy="9.2">)</tspan></text>
<text transform="translate(1121.8,582.25) rotate(-90) scale(1,1.09)" font-size="30" text-anchor="middle" textLength="214.80000000000004" lengthAdjust="spacingAndGlyphs"><tspan>C</tspan><tspan dy="9.3" font-size="17">2</tspan><tspan dy="-9.3">H</tspan><tspan dy="9.3" font-size="17">4</tspan><tspan dy="-9.3"> production</tspan></text>
<text transform="translate(1159.0,577.45) rotate(-90) scale(1,1.09)" font-size="30" text-anchor="middle" textLength="189.00000000000006" lengthAdjust="spacingAndGlyphs"><tspan>(fmol cell</tspan><tspan dy="-9.2" font-size="17">-1</tspan><tspan dy="9.2"> h</tspan><tspan dy="-9.2" font-size="17">-1</tspan><tspan dy="9.2">)</tspan></text>
<text transform="translate(1299.3,581.85) rotate(-90) scale(1,1.09)" font-size="30" text-anchor="middle" textLength="219.39999999999998" lengthAdjust="spacingAndGlyphs"><tspan dy="-9.2" font-size="17">15</tspan><tspan dy="9.2">N</tspan><tspan dy="9.3" font-size="17">2</tspan><tspan dy="-9.3"> assimilation</tspan></text>
<text transform="translate(1336.0,577.8000000000001) rotate(-90) scale(1,1.09)" font-size="30" text-anchor="middle" textLength="220.20000000000002" lengthAdjust="spacingAndGlyphs"><tspan>(fmol N cell</tspan><tspan dy="-9.2" font-size="17">-1</tspan><tspan dy="9.2"> d</tspan><tspan dy="-9.2" font-size="17">-1</tspan><tspan dy="9.2">)</tspan></text>
<text x="182.5" y="130.2" font-size="29" textLength="21.6" lengthAdjust="spacingAndGlyphs">a.</text>
<text x="210.3" y="130.2" font-size="29" font-style="italic" textLength="234.6" lengthAdjust="spacingAndGlyphs">Epithemia pelagica</text>
<text x="181.1" y="476.0" font-size="29" textLength="23.6" lengthAdjust="spacingAndGlyphs">b.</text>
<text x="211.5" y="476.0" font-size="29" font-style="italic" textLength="239.6" lengthAdjust="spacingAndGlyphs">Epithemia catenata</text>
<circle cx="191.5" cy="319.4" r="8.1" fill="#9bb4dc" stroke="#5a82b4" stroke-width="1.05"/>
<circle cx="191.5" cy="359.4" r="8.1" fill="#fff" stroke="#5a82b4" stroke-width="1.05"/>
<path d="M297 309.8L307.8 328.6L286.2 328.6Z" fill="#58709b" stroke="#5b78a8" stroke-width="1"/>
<text x="210.3" y="327.3" font-size="29" textLength="29.8" lengthAdjust="spacingAndGlyphs"><tspan>H</tspan><tspan dy="9.8" font-size="17">2</tspan></text>
<text x="211.7" y="368.5" font-size="29" textLength="55.4" lengthAdjust="spacingAndGlyphs"><tspan>C</tspan><tspan dy="10.2" font-size="17">2</tspan><tspan dy="-10.2">H</tspan><tspan dy="10.2" font-size="17">4</tspan></text>
<text x="312.9" y="332.5" font-size="29" textLength="46.6" lengthAdjust="spacingAndGlyphs"><tspan dy="-11" font-size="17">15</tspan><tspan dy="11">N</tspan><tspan dy="9.8" font-size="17">2</tspan></text>
<circle cx="191.5" cy="669.8" r="8.1" fill="#d9a1b3" stroke="#74305a" stroke-width="1.05"/>
<circle cx="191.5" cy="709.8" r="8.1" fill="#fff" stroke="#74305a" stroke-width="1.05"/>
<path d="M297 660.8000000000001L307.5 678.6L286.5 678.6Z" fill="#7d5a78" stroke="#1e1e1e" stroke-width="1.1"/>
<text x="210.3" y="677.7" font-size="29" textLength="29.8" lengthAdjust="spacingAndGlyphs"><tspan>H</tspan><tspan dy="9.8" font-size="17">2</tspan></text>
<text x="211.7" y="718.9" font-size="29" textLength="55.4" lengthAdjust="spacingAndGlyphs"><tspan>C</tspan><tspan dy="10.2" font-size="17">2</tspan><tspan dy="-10.2">H</tspan><tspan dy="10.2" font-size="17">4</tspan></text>
<text x="312.9" y="682.9" font-size="29" textLength="46.6" lengthAdjust="spacingAndGlyphs"><tspan dy="-11" font-size="17">15</tspan><tspan dy="11">N</tspan><tspan dy="9.8" font-size="17">2</tspan></text></g>
</svg>
</body></html>
